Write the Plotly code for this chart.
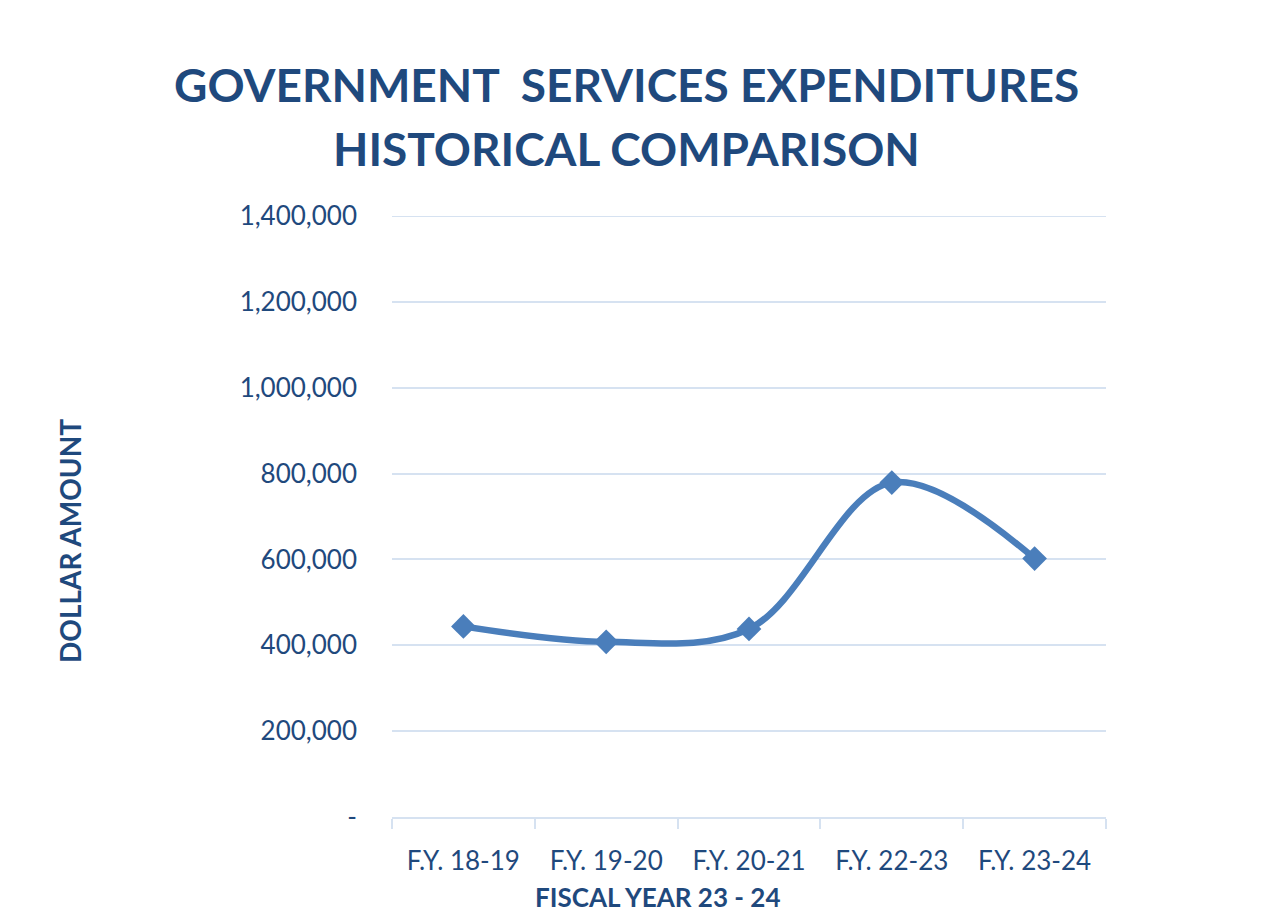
import plotly.graph_objects as go

# Fiscal years and government services expenditures (dollars)
fiscal_years = ["F.Y. 18-19", "F.Y. 19-20", "F.Y. 20-21", "F.Y. 22-23", "F.Y. 23-24"]
expenditures = [444000, 408000, 438000, 779000, 602000]

y_tick_values = [0, 200000, 400000, 600000, 800000, 1000000, 1200000, 1400000]
y_tick_labels = ["-", "200,000", "400,000", "600,000", "800,000",
                 "1,000,000", "1,200,000", "1,400,000"]

title_lines = ["GOVERNMENT  SERVICES EXPENDITURES", "HISTORICAL COMPARISON"]

TEXT_BLUE = "#1F497D"
LINE_BLUE = "#4A7EBB"
GRID_BLUE = "#D6E2F1"
FONT = "Lato"

# plot area in pixels (left, right, top, bottom)
PL, PR, PT, PB = 392, 1106, 216, 817


def px_x(p):
    return (p - PL) / (PR - PL)


def px_y(p):
    return (PB - p) / (PB - PT)


fig = go.Figure()
fig.add_trace(go.Scatter(
    x=fiscal_years,
    y=expenditures,
    mode="lines+markers",
    line=dict(color=LINE_BLUE, width=6.5, shape="spline", smoothing=1.0),
    marker=dict(symbol="diamond", size=19, color=LINE_BLUE),
    showlegend=False,
    hoverinfo="x+y",
))

annotations = []
for text, ypix in zip(title_lines, [85, 148]):
    annotations.append(dict(
        text=text, xref="paper", yref="paper",
        x=px_x(626), y=px_y(ypix),
        xanchor="center", yanchor="middle", showarrow=False,
        font=dict(family=FONT, size=46, color=TEXT_BLUE, weight="bold"),
    ))
annotations.append(dict(
    text="FISCAL YEAR 23 - 24", xref="paper", yref="paper",
    x=px_x(657), y=px_y(897),
    xanchor="center", yanchor="middle", showarrow=False,
    font=dict(family=FONT, size=26, color=TEXT_BLUE, weight="bold"),
))
annotations.append(dict(
    text="DOLLAR AMOUNT", xref="paper", yref="paper",
    x=px_x(70), y=px_y(541),
    xanchor="center", yanchor="middle", textangle=-90, showarrow=False,
    font=dict(family=FONT, size=28, color=TEXT_BLUE, weight="bold"),
))

fig.update_layout(
    width=1278,
    height=922,
    margin=dict(l=PL, r=1278 - PR, t=PT, b=922 - PB),
    paper_bgcolor="white",
    plot_bgcolor="white",
    font=dict(family=FONT, color=TEXT_BLUE),
    xaxis=dict(
        type="category",
        range=[-0.5, len(fiscal_years) - 0.5],
        showgrid=False,
        showline=True,
        linecolor=GRID_BLUE,
        linewidth=2,
        ticks="outside",
        tickson="boundaries",
        ticklen=10,
        tickwidth=2,
        tickcolor=GRID_BLUE,
        tickfont=dict(family=FONT, size=26, color=TEXT_BLUE),
        ticklabelstandoff=20,
    ),
    yaxis=dict(
        range=[0, y_tick_values[-1]],
        tickvals=y_tick_values,
        ticktext=y_tick_labels,
        showgrid=True,
        gridcolor=GRID_BLUE,
        gridwidth=2,
        zeroline=False,
        showline=False,
        tickfont=dict(family=FONT, size=26, color=TEXT_BLUE),
        ticklabelstandoff=34,
    ),
    annotations=annotations,
)

# gridline along the top edge of the plot area (the top tick value)
fig.add_shape(
    type="line", xref="paper", yref="y",
    x0=0, x1=1, y0=y_tick_values[-1], y1=y_tick_values[-1],
    line=dict(color=GRID_BLUE, width=2), layer="below",
)

fig.write_html("out.html")
